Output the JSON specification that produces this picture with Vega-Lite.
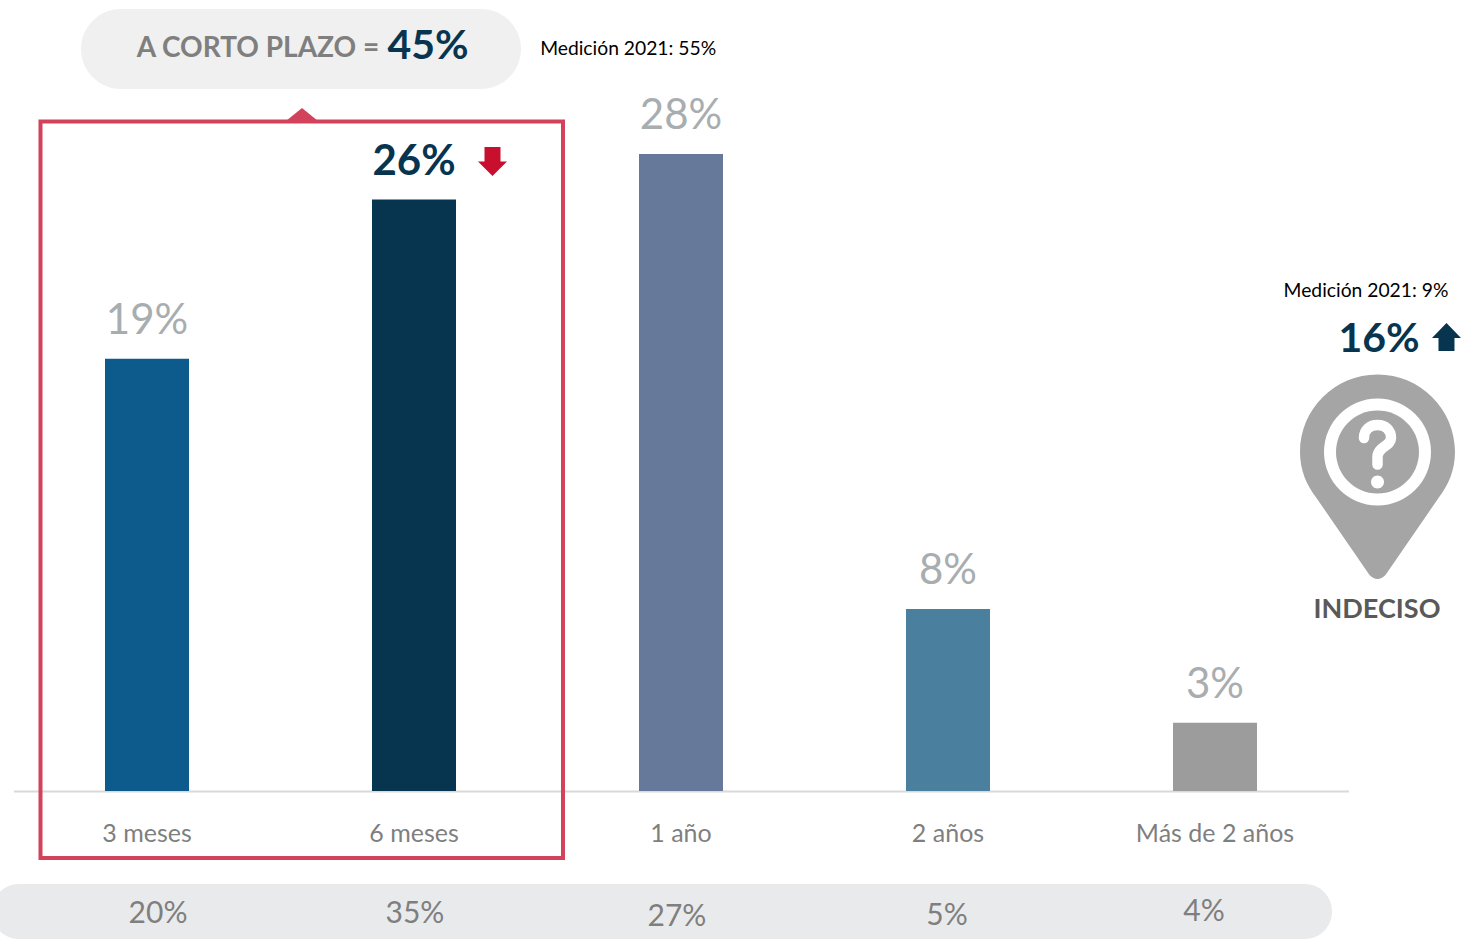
{"$schema":"https://vega.github.io/schema/vega-lite/v6.json","width":1335,"height":791,"autosize":"none","padding":{"left":13.5,"top":0,"right":124.5,"bottom":153},"background":"white","config":{"view":{"stroke":null}},"resolve":{"scale":{"x":"independent"}},"datasets":{"textos":[{"grupo":"historico","texto":"20%","k":0.0412,"v":-5.82},{"grupo":"historico","texto":"35%","k":1.0037,"v":-5.82},{"grupo":"historico","texto":"27%","k":1.985,"v":-5.95},{"grupo":"historico","texto":"5%","k":2.9963,"v":-5.91},{"grupo":"historico","texto":"4%","k":3.9588,"v":-5.7},{"grupo":"medicion","texto":"Medición 2021: 55%","k":1.802,"v":32.352},{"grupo":"medicion","texto":"Medición 2021: 9%","k":4.5655,"v":21.714},{"grupo":"destacado","texto":"45%","k":1.0524,"v":32.17},{"grupo":"destacado","texto":"16%","k":4.6142,"v":19.29},{"grupo":"corto","texto":"A CORTO PLAZO =","k":0.4157,"v":32.25},{"grupo":"indeciso","texto":"INDECISO","k":4.6067,"v":7.604}],"pin":[{"nombre":"indeciso","k":4.6086,"v":14.901}]},"layer":[{"layer":[{"data":{"values":[{"name":"corto","k":-0.2472,"k2":1.4007,"v":34.374,"v2":30.857}]},"mark":{"type":"rect","cornerRadius":40,"fill":"#f0f0f0"},"encoding":{"x":{"field":"k","type":"quantitative","scale":{"domain":[-0.5,4.5],"nice":false,"zero":false},"axis":null},"x2":{"field":"k2"},"y":{"field":"v","type":"quantitative","scale":{"domain":[0,34.77],"nice":false},"axis":null},"y2":{"field":"v2"}}},{"data":{"values":[{"name":"historico","k":-0.5805,"k2":4.438,"v":-4.088,"v2":-6.505}]},"mark":{"type":"rect","cornerRadius":27,"fill":"#e9eaec"},"encoding":{"x":{"field":"k","type":"quantitative","scale":{"domain":[-0.5,4.5],"nice":false,"zero":false},"axis":null},"x2":{"field":"k2"},"y":{"field":"v","type":"quantitative","scale":{"domain":[0,34.77],"nice":false},"axis":null},"y2":{"field":"v2"}}}]},{"data":{"values":[{"plazo":"3 meses","pct":19,"etiqueta":"19%"},{"plazo":"6 meses","pct":26,"etiqueta":"26%"},{"plazo":"1 año","pct":28,"etiqueta":"28%"},{"plazo":"2 años","pct":8,"etiqueta":"8%"},{"plazo":"Más de 2 años","pct":3,"etiqueta":"3%"}]},"encoding":{"x":{"field":"plazo","type":"nominal","sort":null,"scale":{"domain":["3 meses","6 meses","1 año","2 años","Más de 2 años"],"paddingInner":0.6854,"paddingOuter":0.3427},"axis":{"title":null,"labelAngle":0,"ticks":false,"domainColor":"#d9d9d9","domainWidth":2,"labelFont":"Lato","labelFontSize":25,"labelColor":"#7f7f7f","labelPadding":42,"labelBaseline":"middle","grid":false}},"y":{"field":"pct","type":"quantitative","scale":{"domain":[0,34.77],"nice":false},"axis":null}},"layer":[{"mark":{"type":"bar"},"encoding":{"color":{"field":"plazo","type":"nominal","legend":null,"scale":{"domain":["3 meses","6 meses","1 año","2 años","Más de 2 años"],"range":["#0d5a8c","#07344f","#66799b","#4a809e","#9c9c9c"]}}}},{"transform":[{"filter":"datum.plazo !== '6 meses'"}],"mark":{"type":"text","font":"Lato","fontSize":42,"color":"#a8adb0","baseline":"alphabetic","dy":-25},"encoding":{"text":{"field":"etiqueta","type":"nominal"}}},{"transform":[{"filter":"datum.plazo === '6 meses'"}],"mark":{"type":"text","font":"Lato","fontWeight":"bold","fontSize":42,"color":"#07344f","baseline":"alphabetic","dy":-25},"encoding":{"text":{"field":"etiqueta","type":"nominal"}}}]},{"encoding":{"x":{"field":"k","type":"quantitative","scale":{"domain":[-0.5,4.5],"nice":false,"zero":false},"axis":null},"y":{"field":"v","type":"quantitative","scale":{"domain":[0,34.77],"nice":false},"axis":null}},"layer":[{"data":{"values":[{"name":"caja","k":-0.3989,"k2":1.558,"v":29.43,"v2":-2.945}]},"mark":{"type":"rect","filled":false,"stroke":"#d2435b","strokeWidth":4},"encoding":{"x2":{"field":"k2"},"y2":{"field":"v2"}}},{"data":{"values":[{"nombre":"pico","k":0.5805,"v":29.714}]},"mark":{"type":"point","filled":true,"opacity":1,"size":4,"strokeWidth":0,"color":"#d2435b","shape":"M-16,6L0,-7L16,6Z"}},{"data":{"values":[{"nombre":"baja","k":1.294,"v":27.67}]},"mark":{"type":"point","filled":true,"opacity":1,"size":4,"strokeWidth":0,"color":"#c8102e","shape":"M-8,-14.5L8,-14.5L8,0L14.5,0L0,14.5L-14.5,0L-8,0Z"}},{"data":{"values":[{"nombre":"sube","k":4.867,"v":19.956}]},"mark":{"type":"point","filled":true,"opacity":1,"size":4,"strokeWidth":0,"color":"#07344f","shape":"M0,-14L14.5,1L8,1L8,14L-8,14L-8,1L-14.5,1Z"}},{"data":{"name":"pin"},"mark":{"type":"point","filled":true,"opacity":1,"size":4,"strokeWidth":0,"color":"#a5a5a5","shape":"M0,-77.5A77.5,77.5 0 0 1 77.5,0C77.5,18 71,33 61,46L8,123Q0,131 -8,123L-61,46C-71,33 -77.5,18 -77.5,0A77.5,77.5 0 0 1 0,-77.5Z"}},{"data":{"name":"pin"},"mark":{"type":"point","filled":true,"opacity":1,"size":4,"strokeWidth":0,"color":"#ffffff","shape":"M0,-53.5A53.5,53.5 0 1 1 0,53.5A53.5,53.5 0 1 1 0,-53.5Z"}},{"data":{"name":"pin"},"mark":{"type":"point","filled":true,"opacity":1,"size":4,"strokeWidth":0,"color":"#a5a5a5","shape":"M0,-41.5A41.5,41.5 0 1 1 0,41.5A41.5,41.5 0 1 1 0,-41.5Z"}},{"data":{"name":"pin"},"mark":{"type":"point","filled":false,"opacity":1,"size":4,"strokeWidth":10.5,"strokeCap":"round","color":"#ffffff","shape":"M-13.5,-14C-13.5,-23 -7,-27 0,-27C8,-27 13.5,-22 13.5,-14C13.5,-6 0,-5 0,5L0,12.5"}},{"data":{"name":"pin"},"mark":{"type":"point","filled":true,"opacity":1,"size":4,"strokeWidth":0,"color":"#ffffff","shape":"M0,23.5A6.5,6.5 0 1 1 0,36.5A6.5,6.5 0 1 1 0,23.5Z"}},{"data":{"name":"textos"},"transform":[{"filter":"datum.grupo === 'historico'"}],"mark":{"type":"text","font":"Lato","fontSize":30,"color":"#7f7f7f","baseline":"alphabetic"},"encoding":{"text":{"field":"texto","type":"nominal"}}},{"data":{"name":"textos"},"transform":[{"filter":"datum.grupo === 'medicion'"}],"mark":{"type":"text","font":"Lato","fontSize":19.3,"color":"#000000","baseline":"alphabetic"},"encoding":{"text":{"field":"texto","type":"nominal"}}},{"data":{"name":"textos"},"transform":[{"filter":"datum.grupo === 'destacado'"}],"mark":{"type":"text","font":"Lato","fontWeight":"bold","fontSize":41,"color":"#07344f","baseline":"alphabetic"},"encoding":{"text":{"field":"texto","type":"nominal"}}},{"data":{"name":"textos"},"transform":[{"filter":"datum.grupo === 'corto'"}],"mark":{"type":"text","font":"Lato","fontWeight":"bold","fontSize":28,"color":"#7f7f7f","baseline":"alphabetic"},"encoding":{"text":{"field":"texto","type":"nominal"}}},{"data":{"name":"textos"},"transform":[{"filter":"datum.grupo === 'indeciso'"}],"mark":{"type":"text","font":"Lato","fontWeight":"bold","fontSize":27,"color":"#595959","baseline":"alphabetic"},"encoding":{"text":{"field":"texto","type":"nominal"}}}]}]}
